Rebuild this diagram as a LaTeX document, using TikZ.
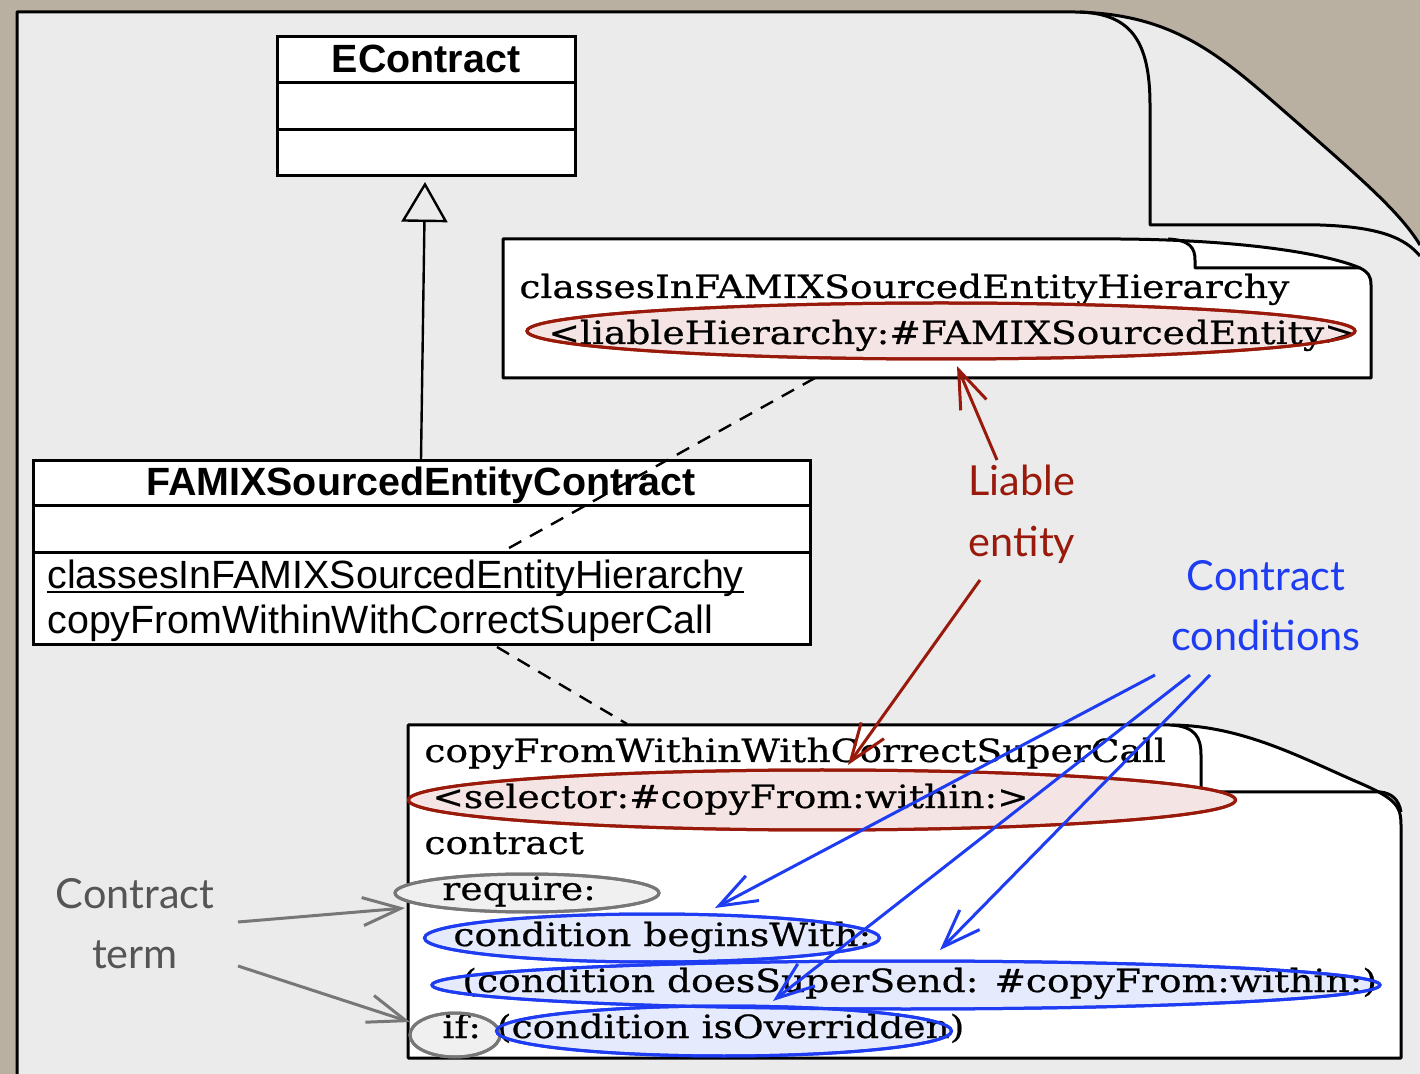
\documentclass[tikz,border=0pt]{standalone}
\usepackage{fontspec}
\setmainfont{DejaVu Serif}
\newfontfamily\umlf{Liberation Sans}
\newfontfamily\notef[FakeStretch=1.175,FakeBold=0.6]{DejaVu Serif}
\newfontfamily\handf{Lato}
\usetikzlibrary{arrows.meta,shapes.geometric}
\definecolor{bgc}{HTML}{B9B0A2}
\definecolor{pagec}{HTML}{EBEBEB}
\definecolor{redc}{HTML}{991A0A}
\definecolor{redf}{HTML}{F5E4E4}
\definecolor{bluec}{HTML}{1E3CF2}
\definecolor{bluef}{HTML}{E1E7FC}
\definecolor{grayc}{HTML}{777777}
\definecolor{grayf}{HTML}{F0F0F0}
\definecolor{labgray}{HTML}{555555}
\tikzset{
  outl/.style={draw=black, line width=1.5pt, line join=round},
  umlbox/.style={draw=black, fill=white, line width=1.5pt, inner sep=0pt},
  umltxt/.style={font=\umlf\fontsize{19.7}{23}\selectfont, inner sep=0pt, anchor=base west},
  umltitle/.style={font=\umlf\bfseries\fontsize{19.7}{23}\selectfont, inner sep=0pt, anchor=base},
  notetxt/.style={font=\notef\fontsize{16}{19}\selectfont, inner sep=0pt, anchor=base west},
  handtxt/.style={font=\handf\fontsize{20.7}{24}\selectfont, inner sep=0pt, anchor=base},
  redell/.style={ellipse, draw=redc, fill=redf, line width=1.5pt, inner sep=0pt},
  blueell/.style={ellipse, draw=bluec, fill=bluef, fill opacity=0.85, line width=1.5pt, inner sep=0pt},
  grayell/.style={ellipse, draw=grayc, fill=grayf, line width=1.5pt, inner sep=0pt},
  barb/.style={-{Straight Barb[length=19pt,width=14pt,line width=1.5pt]}},
  dep/.style={draw=black, line width=1.2pt, dash pattern=on 7pt off 5pt},
}
\begin{document}
\begin{tikzpicture}[x=0.5pt,y=-0.5pt]
\useasboundingbox (0,0) rectangle (1420,1074);
\fill[bgc] (0,0) rectangle (1420,1074);
% page
\fill[pagec] (17,1080) -- (17,12) -- (1075,12) .. controls (1180,14) and (1225,60) .. (1300,125) .. controls (1360,178) and (1400,212) .. (1420,245) -- (1420,1080) -- cycle;
\draw[outl] (17,1080) -- (17,12) -- (1075,12) .. controls (1180,14) and (1225,60) .. (1300,125) .. controls (1360,178) and (1400,212) .. (1420,245);
\draw[outl] (1080,12) .. controls (1130,14) and (1150,40) .. (1150,105) -- (1150,225) -- (1320,225) .. controls (1380,227) and (1405,238) .. (1420,256);

% EContract
\node[umlbox, minimum width=149pt, minimum height=69.5pt] (econ) at (426,106.5) {};
\draw[line width=1.5pt] (277,83) -- (575,83) (277,130) -- (575,130);
\node[umltitle] (econT) at (426,73) {EContract};

% FAMIX box
\node[umlbox, minimum width=388.5pt, minimum height=92pt] (famix) at (421.5,553) {};
\draw[line width=1.5pt] (33,506) -- (810,506) (33,553) -- (810,553);
\node[umltitle] (famixT) at (421,496) {FAMIXSourcedEntityContract};
\node[umltxt] (m1) at (47,589) {classesInFAMIXSourcedEntityHierarchy};
\draw[line width=0.8pt] ([yshift=-1.6pt]m1.base west) -- ([yshift=-1.6pt]m1.base east);
\node[umltxt] (m2) at (47,634) {copyFromWithinWithCorrectSuperCall};

% generalization
\coordinate (genS) at (421,460);
\coordinate (genE) at (425,182);
\draw[line width=1.2pt, -{Triangle[open,length=20pt,width=23pt,line width=1.2pt]}] (genS) -- (genE);

% note 1
\path[fill=white] (503,239) -- (1120,239) .. controls (1250,240) and (1330,255) .. (1360,268) .. controls (1368,272) and (1371,276) .. (1371,285) -- (1371,378) -- (503,378) -- cycle;
\draw[outl] (503,239) -- (1120,239) .. controls (1250,240) and (1330,255) .. (1360,268) .. controls (1368,272) and (1371,276) .. (1371,285) -- (1371,378) -- (503,378) -- cycle;
\draw[outl] (1168,239) .. controls (1190,240) and (1195,248) .. (1195,260) -- (1195,268) -- (1360,268);
\node[redell, minimum width=414pt, minimum height=28pt] (lhE) at (941,331) {};
\node[notetxt] (n1a) at (519,298) {classesInFAMIXSourcedEntityHierarchy};
\node[notetxt] (n1b) at (548,344) {<liableHierarchy:\#FAMIXSourcedEntity>};
\draw[draw=redc, line width=1.5pt] (lhE.center) ellipse (414 and 28);

% note 2
\path[fill=white] (408,725) -- (1170,725) .. controls (1240,725) and (1300,757) .. (1355,781) .. controls (1395,798) and (1401,805) .. (1401,825) -- (1401,1058) -- (408,1058) -- cycle;
\draw[outl] (408,725) -- (1170,725) .. controls (1240,725) and (1300,757) .. (1355,781) .. controls (1395,798) and (1401,805) .. (1401,825) -- (1401,1058) -- (408,1058) -- cycle;
\draw[outl] (1172,725) .. controls (1195,727) and (1201,737) .. (1201,755) -- (1201,792) -- (1380,792) .. controls (1392,793) and (1399,800) .. (1401,812);

% ellipses fill
\node[redell, minimum width=413.5pt, minimum height=30pt] (selE) at (822,800) {};
\node[grayell, minimum width=132pt, minimum height=19pt] (reqE) at (527,893) {};
\node[blueell, minimum width=227.5pt, minimum height=24pt] (begE) at (652,938) {};
\node[blueell, minimum width=474pt, minimum height=24pt] (supE) at (906,985) {};
\node[grayell, minimum width=45pt, minimum height=22pt] (ifE) at (455,1035) {};
\node[blueell, minimum width=227.5pt, minimum height=25pt] (ovE) at (724,1031) {};

\node[notetxt] (t1) at (424,762) {copyFromWithinWithCorrectSuperCall};
\node[notetxt] (t2) at (432,808) {<selector:\#copyFrom:within:>};
\node[notetxt] (t3) at (424,854) {contract};
\node[notetxt] (t4) at (442,900) {require:};
\node[notetxt] (t5) at (453,946) {condition beginsWith:};
\node[notetxt] (t6) at (462,992) {(condition doesSuperSend: \#copyFrom:within:)};
\node[notetxt] (t7) at (442,1038) {if: (condition isOverridden)};

% ellipse strokes on top
\draw[draw=redc, line width=1.5pt] (selE.center) ellipse (413.5 and 30);
\draw[draw=grayc, line width=1.5pt] (reqE.center) ellipse (132 and 19);
\draw[draw=bluec, line width=1.5pt] (begE.center) ellipse (227.5 and 24);
\draw[draw=bluec, line width=1.5pt] (supE.center) ellipse (474 and 24);
\draw[draw=grayc, line width=1.5pt] (ifE.center) ellipse (45 and 22);
\draw[draw=bluec, line width=1.5pt] (ovE.center) ellipse (227.5 and 25);

% dependencies
\coordinate (d1a) at (815,378);
\coordinate (d1b) at (500,553);
\coordinate (d2a) at (497,647);
\coordinate (d2b) at (627,724);
\draw[dep] (d1a) -- (d1b);
\draw[dep] (d2a) -- (d2b);

% labels
\node[handtxt, text=labgray] (ctermA) at (135,908) {Contract};
\node[handtxt, text=labgray] (ctermB) at (135,968) {term};
\node[handtxt, text=redc] (liabA) at (1022,496) {Liable};
\node[handtxt, text=redc] (liabB) at (1022,557) {entity};
\node[handtxt, text=bluec] (ccA) at (1266,591) {Contract};
\node[handtxt, text=bluec] (ccB) at (1266,651) {conditions};

% arrows
\coordinate (a1s) at (997,460); \coordinate (a1e) at (957,366);
\coordinate (a2s) at (980,580); \coordinate (a2e) at (848,765);
\draw[barb, draw=redc, line width=1.5pt] (a1s) -- (a1e);
\draw[barb, draw=redc, line width=1.5pt] (a2s) -- (a2e);
\coordinate (b1s) at (1155,675); \coordinate (b1e) at (715,908);
\coordinate (b2s) at (1190,675); \coordinate (b2e) at (773,1001);
\coordinate (b3s) at (1210,675); \coordinate (b3e) at (940,950);
\draw[barb, draw=bluec, line width=1.5pt] (b1s) -- (b1e);
\draw[barb, draw=bluec, line width=1.5pt] (b2s) -- (b2e);
\draw[barb, draw=bluec, line width=1.5pt] (b3s) -- (b3e);
\coordinate (g1s) at (238,922); \coordinate (g1e) at (405,908);
\coordinate (g2s) at (238,966); \coordinate (g2e) at (410,1022);
\draw[barb, draw=grayc, line width=1.5pt] (g1s) -- (g1e);
\draw[barb, draw=grayc, line width=1.5pt] (g2s) -- (g2e);
\end{tikzpicture}
\end{document}
